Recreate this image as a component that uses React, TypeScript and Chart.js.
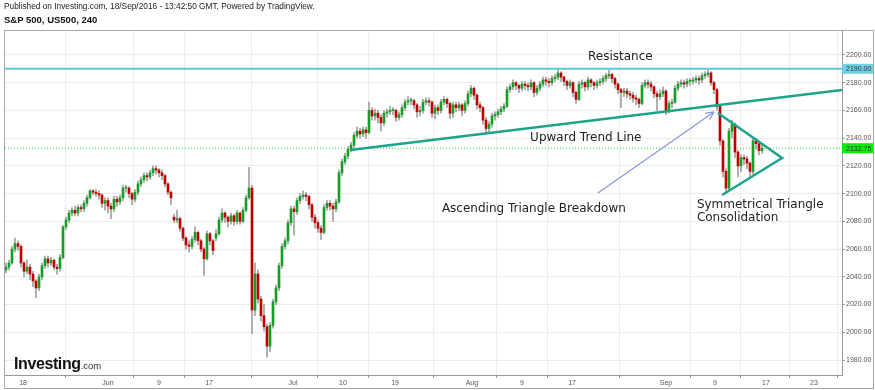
import React, { useEffect, useRef } from "react";
import { Chart, registerables } from "chart.js";
Chart.register(...registerables);

// ---- data (4-hour candles, S&P 500 CFD) ----
const firstOpen = 2045;
const closes = [
  2047,2050,2060,2064,2062,2050,2044,2047,2042,2037,
  2032,2040,2048,2053,2050,2052,2047,2046,2054,2076,
  2081,2086,2088,2086,2090,2089,2093,2097,2102,2101,
  2100,2099,2093,2095,2091,2089,2096,2094,2097,2104,
  2104,2100,2096,2101,2107,2110,2113,2112,2115,2118,
  2117,2115,2113,2107,2101,2097,2081,2082,2075,2068,
  2063,2062,2067,2072,2066,2060,2053,2071,2066,2059,
  2071,2081,2086,2083,2080,2084,2080,2086,2080,2088,
  2097,2104,2016,2042,2024,2012,2004,1990,2005,2022,
  2032,2048,2062,2066,2079,2089,2087,2095,2098,2099,
  2098,2092,2083,2079,2075,2072,2090,2093,2091,2089,
  2094,2115,2123,2127,2132,2135,2142,2145,2143,2146,
  2144,2160,2156,2158,2155,2151,2158,2159,2160,2160,
  2155,2157,2162,2166,2167,2167,2164,2159,2160,2166,
  2167,2166,2158,2162,2160,2166,2168,2165,2158,2164,
  2162,2164,2160,2165,2172,2176,2171,2164,2162,2153,
  2147,2150,2156,2157,2159,2161,2163,2175,2177,2180,
  2178,2176,2179,2178,2177,2180,2173,2176,2179,2182,
  2181,2180,2183,2184,2187,2184,2181,2178,2180,2173,
  2168,2179,2180,2177,2182,2180,2178,2180,2181,2183,
  2185,2186,2183,2179,2175,2173,2174,2172,2171,2169,
  2168,2165,2178,2180,2179,2177,2172,2170,2172,2174,
  2160,2165,2166,2176,2179,2180,2179,2181,2181,2182,
  2183,2182,2185,2186,2187,2180,2175,2163,2138,2116,
  2104,2145,2150,2130,2120,2126,2125,2122,2116,2138,
  2136,2131,2132.75,
];
const highs = [
  2050,2052,2062,2068,2066,2063,2051,2052,2049,2044,
  2038,2042,2050,2055,2055,2054,2053,2049,2056,2077,
  2083,2088,2090,2091,2092,2092,2095,2099,2103,2103,
  2103,2102,2100,2097,2097,2093,2098,2098,2099,2106,
  2106,2105,2101,2103,2109,2112,2115,2115,2117,2120,
  2120,2118,2117,2114,2108,2102,2085,2088,2083,2076,
  2069,2066,2069,2076,2073,2067,2061,2073,2072,2067,
  2074,2083,2089,2087,2084,2086,2085,2088,2087,2090,
  2099,2119,2106,2050,2045,2026,2020,2006,2007,2024,
  2034,2050,2064,2068,2081,2091,2091,2097,2100,2102,
  2101,2099,2093,2085,2081,2077,2092,2095,2095,2093,
  2096,2117,2125,2129,2134,2137,2144,2148,2147,2148,
  2148,2166,2162,2161,2160,2157,2160,2161,2163,2162,
  2161,2159,2164,2168,2170,2169,2168,2165,2163,2168,
  2169,2169,2167,2164,2164,2168,2170,2169,2166,2166,
  2166,2166,2165,2167,2174,2178,2177,2172,2166,2163,
  2155,2152,2158,2159,2161,2163,2165,2177,2179,2182,
  2181,2179,2181,2181,2180,2182,2181,2178,2181,2184,
  2184,2183,2185,2186,2190,2188,2185,2182,2182,2181,
  2174,2181,2182,2181,2184,2183,2181,2182,2183,2185,
  2187,2189,2187,2184,2180,2176,2176,2176,2174,2173,
  2171,2169,2180,2182,2182,2181,2178,2174,2175,2177,
  2175,2167,2168,2178,2181,2182,2182,2183,2183,2184,
  2185,2185,2187,2188,2189,2188,2181,2176,2164,2139,
  2118,2147,2153,2151,2131,2128,2128,2127,2123,2140,
  2140,2137,2135,
];
const lows = [
  2043,2045,2049,2058,2059,2047,2040,2042,2038,2033,
  2025,2030,2038,2046,2047,2048,2045,2042,2044,2053,
  2074,2079,2084,2084,2084,2087,2087,2091,2096,2099,
  2098,2096,2090,2088,2086,2082,2087,2091,2092,2095,
  2101,2097,2092,2094,2099,2105,2108,2109,2110,2113,
  2114,2112,2110,2105,2099,2092,2079,2079,2073,2066,
  2060,2058,2060,2065,2063,2058,2041,2052,2063,2056,
  2066,2070,2079,2079,2076,2078,2077,2078,2078,2079,
  2087,2096,1999,2012,2021,2008,2001,1982,1986,2003,
  2020,2030,2046,2060,2064,2077,2070,2085,2093,2096,
  2095,2089,2080,2075,2072,2067,2071,2088,2088,2080,
  2087,2093,2113,2121,2125,2130,2133,2140,2140,2141,
  2140,2143,2153,2153,2151,2145,2149,2155,2157,2157,
  2152,2153,2155,2160,2164,2164,2161,2155,2156,2158,
  2164,2163,2155,2154,2157,2158,2164,2162,2154,2155,
  2159,2160,2156,2158,2163,2170,2168,2161,2159,2150,
  2143,2144,2148,2153,2155,2157,2159,2162,2173,2175,
  2175,2173,2174,2175,2174,2175,2170,2171,2174,2177,
  2178,2177,2178,2181,2182,2181,2178,2175,2176,2170,
  2165,2167,2176,2174,2175,2177,2175,2176,2178,2179,
  2181,2183,2180,2176,2172,2162,2170,2169,2168,2166,
  2164,2162,2164,2176,2176,2174,2169,2160,2168,2170,
  2157,2158,2162,2165,2174,2177,2176,2177,2178,2179,
  2180,2179,2180,2183,2184,2178,2172,2160,2135,2112,
  2100,2102,2140,2126,2112,2116,2121,2118,2112,2114,
  2132,2128,2129,
];
// weekend gap opens: [candle index, open]
const gapOpens = [[56, 2083], [70, 2068]];

const yTickValues = [1980, 2000, 2020, 2040, 2060, 2080, 2100, 2120, 2140, 2160, 2180, 2200];
const dateTickIndex = [5.7, 34, 51, 67.7, 95.7, 112.3, 129.7, 155.3, 172, 188.7, 220, 236.3, 253.3, 269.3];
const dateTickLabels = ["18", "Jun", "9", "17", "Jul", "10", "19", "Aug", "9", "17", "Sep", "9", "17", "23"];

const resistanceLevel = 2190;
const lastPrice = 2132.75;
const trendLine = [{ x: 114.7, y: 2131.5 }, { x: 278.7, y: 2174.7 }];
const triangle = [{ x: 237.3, y: 2158.2 }, { x: 258.7, y: 2125.7 }, { x: 238.7, y: 2099.0 }];
const arrowLine = [{ x: 197.3, y: 2100.5 }, { x: 236, y: 2158.9 }];
const notes = [
  { text: "Resistance", x: 194, y: 2198.6 },
  { text: "Upward Trend Line", x: 174.7, y: 2140.1 },
  { text: "Ascending Triangle Breakdown", x: 145.3, y: 2088.9 },
  { text: "Symmetrical Triangle", x: 230.3, y: 2091.8 },
  { text: "Consolidation", x: 230.3, y: 2082.4 },
];

const X_MIN = -0.333;
const X_MAX = 278.67;
const Y_MIN = 1969.2;
const Y_MAX = 2218;

const UP = "#149e26";
const DOWN = "#bf0000";

export default function App() {
  const ref = useRef<HTMLCanvasElement | null>(null);

  useEffect(() => {
    const canvas = ref.current;
    if (!canvas) return;
    const opens = closes.map((_, i) => (i === 0 ? firstOpen : closes[i - 1]));
    gapOpens.forEach(([i, v]) => (opens[i] = v));

    const wickData = closes.map((_, i) => ({ x: i, y: [lows[i], highs[i]] }));
    const bodyData = closes.map((c, i) => ({ x: i, y: [opens[i], c] }));
    const bodyColors = closes.map((c, i) => (c >= opens[i] ? UP : DOWN));

    const overlay = {
      id: "overlay",
      afterDatasetsDraw(chart: any) {
        const ctx = chart.ctx;
        const xs = chart.scales.x;
        const ys = chart.scales.y;
        const ca = chart.chartArea;
        ctx.save();
        // arrow head
        const ax0 = xs.getPixelForValue(arrowLine[0].x), ay0 = ys.getPixelForValue(arrowLine[0].y);
        const ax1 = xs.getPixelForValue(arrowLine[1].x), ay1 = ys.getPixelForValue(arrowLine[1].y);
        const ang = Math.atan2(ay1 - ay0, ax1 - ax0);
        ctx.strokeStyle = "#8797dc";
        ctx.lineWidth = 1.2;
        ctx.beginPath();
        for (const s of [-1, 1]) {
          ctx.moveTo(ax1, ay1);
          ctx.lineTo(ax1 - 9 * Math.cos(ang + s * 0.45), ay1 - 9 * Math.sin(ang + s * 0.45));
        }
        ctx.stroke();
        // notes
        ctx.fillStyle = "#222";
        ctx.font = "12px 'DejaVu Sans', Verdana, sans-serif";
        ctx.textAlign = "left";
        ctx.textBaseline = "middle";
        notes.forEach((n) => {
          ctx.fillText(n.text, xs.getPixelForValue(n.x), ys.getPixelForValue(n.y));
        });
        // price labels on axis
        ctx.font = "7px 'Liberation Sans', Arial, sans-serif";
        const tags = [
          { v: resistanceLevel, bg: "#72d0e4" },
          { v: lastPrice, bg: "#00f000" },
        ];
        tags.forEach((t) => {
          const py = ys.getPixelForValue(t.v);
          ctx.fillStyle = t.bg;
          ctx.fillRect(ca.right, py - 5, 31, 10);
          ctx.fillStyle = "#333";
          ctx.fillText(t.v.toFixed(2), ca.right + 4, py + 0.5);
        });
        // outer frame
        ctx.strokeStyle = "#a8a8a8";
        ctx.lineWidth = 1;
        ctx.strokeRect(4.5, 30.5, 869, 358);
        ctx.restore();
      },
    };

    const chart = new Chart(canvas, {
      type: "bar",
      data: {
        datasets: [
          {
            type: "line",
            data: [{ x: X_MIN, y: resistanceLevel }, { x: X_MAX, y: resistanceLevel }],
            borderColor: "#5ec6dc",
            borderWidth: 2,
            pointRadius: 0,
            order: 0,
          } as any,
          {
            type: "line",
            data: [{ x: X_MIN, y: lastPrice }, { x: X_MAX, y: lastPrice }],
            borderColor: "#22e022",
            borderWidth: 1,
            borderDash: [1, 2],
            pointRadius: 0,
            order: 5,
          } as any,
          {
            type: "line",
            data: trendLine,
            borderColor: "#1aa48a",
            borderWidth: 2.5,
            pointRadius: 0,
            order: 0,
          } as any,
          {
            type: "line",
            data: triangle,
            borderColor: "#1aa48a",
            borderWidth: 2.5,
            pointRadius: 0,
            tension: 0,
            order: 0,
          } as any,
          {
            type: "line",
            data: arrowLine,
            borderColor: "#8797dc",
            borderWidth: 1.2,
            pointRadius: 0,
            order: 0,
          } as any,
          {
            type: "bar",
            data: wickData as any,
            backgroundColor: "#a0a0a0",
            barThickness: 1,
            grouped: false,
            order: 3,
          } as any,
          {
            type: "bar",
            data: bodyData as any,
            backgroundColor: bodyColors,
            barThickness: 2,
            minBarLength: 1,
            grouped: false,
            order: 2,
          } as any,
        ],
      },
      options: {
        animation: false,
        responsive: false,
        devicePixelRatio: 1,
        layout: { padding: { left: 5, top: 30, right: 2, bottom: 2 } },
        plugins: { legend: { display: false }, tooltip: { enabled: false } },
        scales: {
          x: {
            type: "linear",
            min: X_MIN,
            max: X_MAX,
            offset: false,
            afterBuildTicks: (s: any) => {
              s.ticks = dateTickIndex.map((v) => ({ value: v }));
            },
            afterFit: (s: any) => {
              s.height = 13;
            },
            ticks: {
              autoSkip: false,
              maxRotation: 0,
              padding: 1,
              color: "#555",
              font: { size: 7, family: "'Liberation Sans', Arial, sans-serif" },
              callback: (_v: any, i: number) => dateTickLabels[i],
            },
            grid: { color: "#ececec", tickLength: 3, tickColor: "#999" },
            border: { color: "#9a9a9a", width: 1 },
          },
          y: {
            type: "linear",
            position: "right",
            min: Y_MIN,
            max: Y_MAX,
            afterBuildTicks: (s: any) => {
              s.ticks = yTickValues.map((v) => ({ value: v }));
            },
            afterFit: (s: any) => {
              s.width = 31;
            },
            ticks: {
              padding: 1,
              color: "#555",
              font: { size: 7, family: "'Liberation Sans', Arial, sans-serif" },
              callback: (v: any) => Number(v).toFixed(2),
            },
            grid: { color: "#ececec", tickLength: 3, tickColor: "#999" },
            border: { color: "#9a9a9a", width: 1 },
          },
        },
      } as any,
      plugins: [overlay],
    });
    return () => chart.destroy();
  }, []);

  return (
    <div style={{ position: "absolute", left: 0, top: 0, width: 875, height: 390, background: "#fff", overflow: "hidden" }}>
      <canvas ref={ref} width={875} height={390} style={{ position: "absolute", left: 0, top: 0, width: 875, height: 390 }} />
      <div style={{ position: "absolute", left: 4, top: 1, font: "8.3px 'Liberation Sans', Arial, sans-serif", color: "#222", whiteSpace: "nowrap" }}>
        Published on Investing.com, 18/Sep/2016 - 13:42:50 GMT, Powered by TradingView.
      </div>
      <div style={{ position: "absolute", left: 4, top: 14, font: "bold 9.5px 'Liberation Sans', Arial, sans-serif", color: "#111", whiteSpace: "nowrap" }}>
        S&amp;P 500, US500, 240
      </div>
      <div style={{ position: "absolute", left: 14, top: 355, whiteSpace: "nowrap", color: "#111", lineHeight: "18px" }}>
        <span style={{ font: "bold 16px 'Liberation Sans', Arial, sans-serif", letterSpacing: -0.4 }}>Investing</span>
        <span style={{ font: "9.5px 'Liberation Sans', Arial, sans-serif", color: "#333" }}>.com</span>
      </div>
    </div>
  );
}
